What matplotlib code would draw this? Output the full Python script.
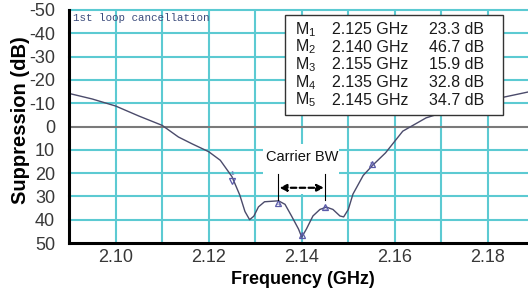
import matplotlib
matplotlib.use('Agg')
import matplotlib.pyplot as plt
from matplotlib.patches import Rectangle

plt.rcParams['font.family'] = ['Liberation Sans', 'DejaVu Sans']

#measured suppression curve (GHz, dB)
freq = [2.090, 2.095, 2.100, 2.105, 2.110, 2.1135, 2.1165, 2.120, 2.1225, 2.125,
        2.1267, 2.1278, 2.1288, 2.1297, 2.1307, 2.132, 2.135, 2.1364, 2.1378, 2.1393,
        2.140, 2.141, 2.1424, 2.1439, 2.1453, 2.1467, 2.1482, 2.149, 2.150, 2.151,
        2.1532, 2.1553, 2.158, 2.1617, 2.1667, 2.1713, 2.1827, 2.1886]
supp = [-14.2, -11.8, -8.8, -4.5, -0.5, 4.5, 7.5, 10.8, 14.5, 21.5,
        29.5, 36.5, 40.0, 38.5, 34.5, 32.3, 31.9, 33.4, 38.4, 44.0,
        47.5, 44.0, 38.4, 35.6, 34.6, 35.6, 38.4, 38.8, 35.6, 29.0,
        21.0, 16.5, 11.3, 2.0, -3.7, -6.6, -12.3, -14.8]

#markers
marker_names = ['1', '2', '3', '4', '5']
marker_freq = [2.125, 2.140, 2.155, 2.135, 2.145]
marker_db = [23.3, 46.7, 15.9, 32.8, 34.7]

#ticks
xticks = [2.10, 2.12, 2.14, 2.16, 2.18]
xtick_labels = ['2.10', '2.12', '2.14', '2.16', '2.18']
yticks = [-50, -40, -30, -20, -10, 0, 10, 20, 30, 40, 50]

bw_start, bw_stop = 2.135, 2.145

grid_col = '#5ccad2'

fig = plt.figure(figsize=(5.28, 2.95), dpi=100)
ax = fig.add_axes([69 / 528, 1 - 243 / 295, 459 / 528, 233 / 295])

ax.set_xlim(2.09, 2.1886)
ax.set_ylim(50, -50)

#grid every 0.01 GHz and 10 dB
for f in [2.10, 2.11, 2.12, 2.13, 2.14, 2.15, 2.16, 2.17, 2.18]:
    ax.axvline(f, color=grid_col, lw=1.5, zorder=1)
for v in yticks[:-1]:
    if v != 0:
        ax.axhline(v, color=grid_col, lw=1.5, zorder=1, clip_on=False)
ax.axhline(0, color='#7a7a7a', lw=1.5, zorder=1)

ax.set_xticks(xticks)
ax.set_xticklabels(xtick_labels)
ax.set_yticks(yticks)
ax.set_yticklabels([str(v) for v in yticks])
ax.tick_params(axis='both', length=0, labelsize=13, labelcolor='#383838')
ax.tick_params(axis='x', pad=4)
ax.tick_params(axis='y', pad=10)

for s in ['top', 'right']:
    ax.spines[s].set_visible(False)
for s in ['left', 'bottom']:
    ax.spines[s].set_linewidth(2.2)
    ax.spines[s].set_color('black')
    ax.spines[s].set_zorder(5)

#carrier bandwidth box (white background)
ax.add_patch(Rectangle((2.1316, 7.5), 2.148 - 2.1316, 21.5, facecolor='white',
                       edgecolor='none', zorder=2))

ax.plot(freq, supp, color='#4b4b6b', lw=1.0, zorder=3)

#marker symbols
for name, f, v in zip(marker_names, marker_freq, marker_db):
    if name == '1':
        ax.plot(f, v, marker='v', ms=5, mfc='none', mec='#5a5aa8', mew=0.9, zorder=4)
        ax.annotate(name, (f, v), xytext=(0, 3.5), textcoords='offset points',
                    ha='center', va='bottom', fontsize=4.5, color='#5a5aa8', zorder=4)
    else:
        ax.plot(f, v, marker='^', ms=5, mfc='none', mec='#5a5aa8', mew=0.9, zorder=4)
        ax.annotate(name, (f, v), xytext=(0, -1), textcoords='offset points',
                    ha='center', va='center', fontsize=4.5, color='#5a5aa8', zorder=4)

#carrier BW annotation
ax.text((bw_start + bw_stop) / 2, 13.3, 'Carrier BW', ha='center', va='center',
        fontsize=10.5, color='#111111', zorder=4)
ax.plot([bw_start, bw_start], [20.6, 31.5], color='black', lw=0.8, zorder=4)
ax.plot([bw_stop, bw_stop], [20.6, 31.5], color='black', lw=0.8, zorder=4)
ax.annotate('', xy=(bw_stop - 0.0002, 26.3), xytext=(bw_start + 0.0002, 26.3),
            arrowprops=dict(arrowstyle='<|-|>', color='black', lw=1.6,
                            linestyle=(0, (2.5, 1.5)), mutation_scale=10,
                            shrinkA=0, shrinkB=0), zorder=4)

ax.text(0.0087, 0.966, '1st loop cancellation', transform=ax.transAxes,
        fontsize=7.8, family='Liberation Mono', color='#3c4c7c', va='center', ha='left')

#marker table
ax.add_patch(Rectangle((0.4706, 0.549), 0.9455 - 0.4706, 0.9785 - 0.549,
                       transform=ax.transAxes, facecolor='white', edgecolor='#333333',
                       lw=1.0, zorder=6))
rows_y = [0.917, 0.8412, 0.7653, 0.6898, 0.6137]
for name, f, v, y in zip(marker_names, marker_freq, marker_db, rows_y):
    ax.text(0.4924, y, r'$\mathregular{M_%s}$' % name, transform=ax.transAxes,
            fontsize=11.5, ha='left', va='center', color='#1a1a1a', zorder=7)
    ax.text(0.573, y, f'{f:.3f} GHz', transform=ax.transAxes,
            fontsize=11.5, ha='left', va='center', color='#1a1a1a', zorder=7)
    ax.text(0.904, y, f'{v:.1f} dB', transform=ax.transAxes,
            fontsize=11.5, ha='right', va='center', color='#1a1a1a', zorder=7)

#axis labels
fig.text(303 / 528, 1 - 279 / 295, 'Frequency (GHz)', ha='center', va='center',
         fontsize=13, fontweight='bold')
fig.text(21 / 528, 1 - 120 / 295, 'Suppression (dB)', ha='center', va='center',
         rotation=90, fontsize=14.5, fontweight='bold')

fig.savefig('out.png', dpi=100, facecolor='white')
